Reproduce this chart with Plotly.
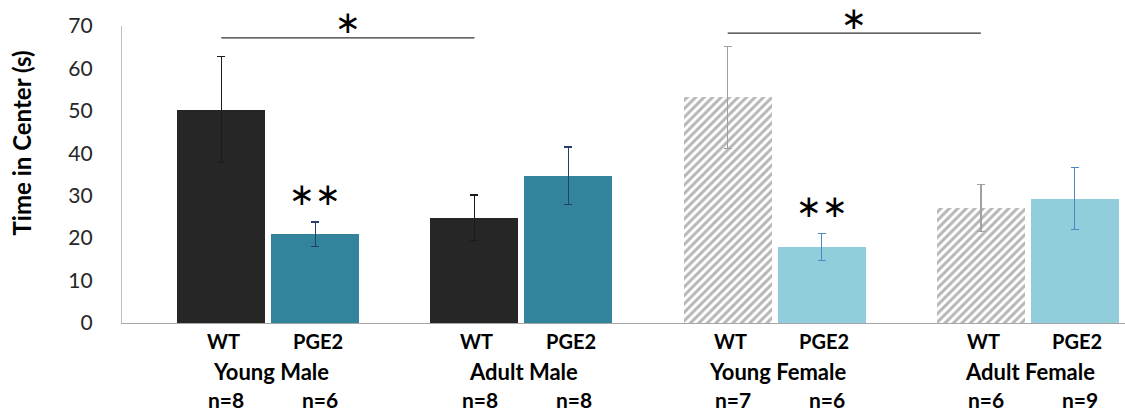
import plotly.graph_objects as go

# Time spent in the centre of the open field, mean ± SEM
groups = ["Young Male", "Adult Male", "Young Female", "Adult Female"]
genotypes = ["WT", "PGE2"]
wt_mean = [50.3, 24.8, 53.2, 27.1]
wt_sem = [12.5, 5.4, 12.0, 5.5]
pge2_mean = [20.9, 34.7, 17.9, 29.3]
pge2_sem = [2.9, 6.8, 3.2, 7.3]
wt_n = [8, 8, 7, 6]
pge2_n = [6, 8, 6, 9]
y_ticks = [0, 10, 20, 30, 40, 50, 60, 70]
Y_MAX = 70

# significance brackets: (from group, to group, height, label)
brackets = [(0, 1, 67.2, "∗"), (2, 3, 68.3, "∗")]
# within-group WT vs PGE2 marks
pair_marks = {0: "∗∗", 2: "∗∗"}

FONT = "Lato"
STAR_FONT = dict(family="DejaVu Sans", size=31, color="#000000")
OFFSET = 0.1856      # half distance between paired bars (group step = 1)
BAR_W = 0.3475

def wt_x(i):
    return i - OFFSET

def pge_x(i):
    return i + OFFSET

fig = go.Figure()

styles = [
    # (group indices, genotype, bar colour, pattern, error colour)
    ([0, 1], "WT", "#262626", None, "#1a1a1a"),
    ([0, 1], "PGE2", "#31849B", None, "#24406a"),
    ([2, 3], "WT", "#ffffff", dict(shape="/", fgcolor="#6e6e6e", bgcolor="#ffffff",
                                   size=6, solidity=0.5), "#a0a0a0"),
    ([2, 3], "PGE2", "#92CDDC", None, "#4f86c6"),
]

for idx, geno, color, pattern, ecolor in styles:
    if geno == "WT":
        xs = [wt_x(i) for i in idx]
        ys = [wt_mean[i] for i in idx]
        es = [wt_sem[i] for i in idx]
    else:
        xs = [pge_x(i) for i in idx]
        ys = [pge2_mean[i] for i in idx]
        es = [pge2_sem[i] for i in idx]
    marker = dict(color=color, line=dict(width=0))
    if pattern:
        marker["pattern"] = pattern
    fig.add_trace(go.Bar(
        x=xs, y=ys, width=BAR_W, marker=marker, showlegend=False,
        error_y=dict(type="data", array=es, visible=True, color=ecolor,
                     thickness=1.3, width=4),
    ))

annotations = []

# category rows under the axis
for i, g in enumerate(groups):
    for x, geno, n in ((wt_x(i), genotypes[0], wt_n[i]), (pge_x(i), genotypes[1], pge2_n[i])):
        annotations.append(dict(x=x + 0.01, y=-0.061, xref="x", yref="paper", text=f"<b>{geno}</b>",
                                showarrow=False, font=dict(family=FONT, size=20, color="#000000"),
                                xanchor="center", yanchor="middle"))
        annotations.append(dict(x=x + 0.02, y=-0.258, xref="x", yref="paper", text=f"<b>n={n}</b>",
                                showarrow=False, font=dict(family=FONT, size=21, color="#000000"),
                                xanchor="center", yanchor="middle"))
    annotations.append(dict(x=i + 0.01, y=-0.162, xref="x", yref="paper", text=f"<b>{g}</b>",
                            showarrow=False, font=dict(family=FONT, size=22, color="#000000"),
                            xanchor="center", yanchor="middle"))

# y axis title
annotations.append(dict(x=-0.1, y=0.607, xref="paper", yref="paper",
                        text="<b>Time in Center (s)</b>", textangle=-90, showarrow=False,
                        font=dict(family=FONT, size=24, color="#000000"),
                        xanchor="center", yanchor="middle"))

shapes = []
for a, b, h, lab in brackets:
    shapes.append(dict(type="line", xref="x", yref="y", x0=wt_x(a), x1=wt_x(b), y0=h, y1=h,
                       line=dict(color="#333333", width=1.3)))
    annotations.append(dict(x=(wt_x(a) + wt_x(b)) / 2, y=(h + 3.7) / Y_MAX, xref="x", yref="paper",
                            text=lab, showarrow=False, font=STAR_FONT,
                            xanchor="center", yanchor="middle"))

for i, lab in pair_marks.items():
    annotations.append(dict(x=pge_x(i), y=pge2_mean[i] + pge2_sem[i] + 6.5, xref="x", yref="y",
                            text=lab, showarrow=False, font=STAR_FONT,
                            xanchor="center", yanchor="middle"))

fig.update_layout(
    width=1125, height=411,
    margin=dict(l=122, r=0, t=26, b=88),
    paper_bgcolor="#ffffff", plot_bgcolor="#ffffff",
    bargap=0, barmode="overlay",
    annotations=annotations, shapes=shapes,
    xaxis=dict(range=[-0.5776, 3.3837], showticklabels=False, showgrid=False, zeroline=False,
               showline=True, linecolor="#a6a6a6", linewidth=1.3, ticks=""),
    yaxis=dict(range=[0, Y_MAX], tickvals=y_ticks, showgrid=False, zeroline=False,
               showline=True, linecolor="#bfbfbf", linewidth=1.3, ticks="",
               ticklabelstandoff=24,
               tickfont=dict(family=FONT, size=21, color="#262626")),
)

fig.write_html("out.html")
